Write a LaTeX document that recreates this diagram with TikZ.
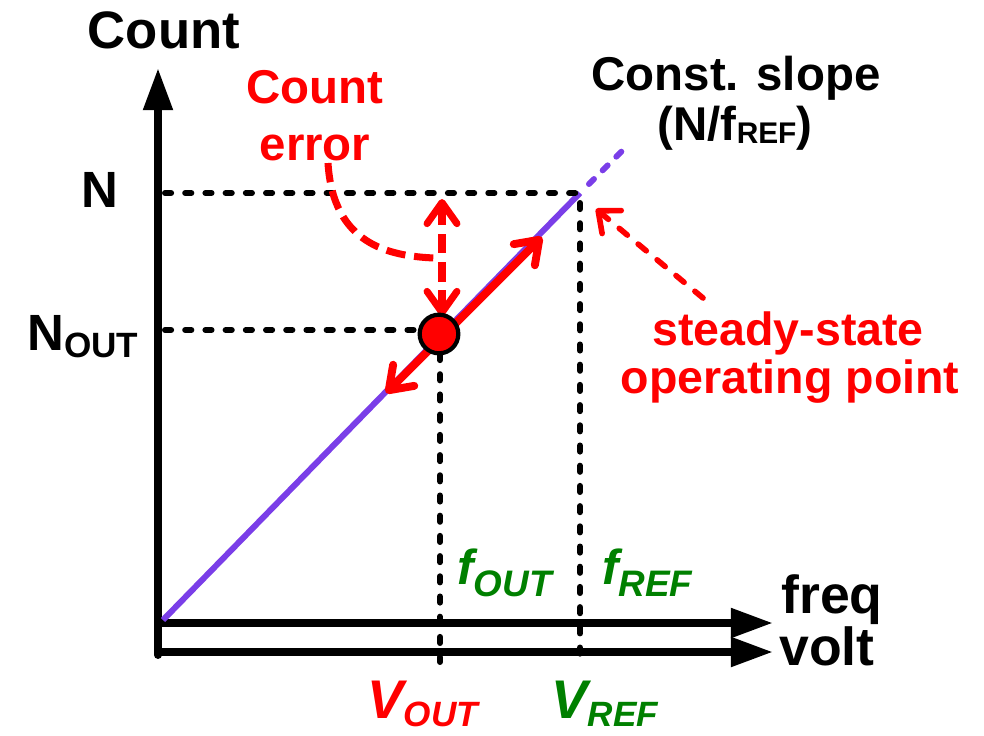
\documentclass[tikz,border=0pt]{standalone}
\usepackage{fontspec}
\setmainfont{Liberation Sans}
\usetikzlibrary{arrows.meta}
\definecolor{myred}{RGB}{255,0,0}
\definecolor{mygreen}{RGB}{0,128,0}
\definecolor{mypurple}{RGB}{122,62,232}
\newcommand\fsz[1]{\fontsize{#1}{#1}\selectfont}
\begin{document}
\begin{tikzpicture}[x=0.02cm,y=-0.02cm,
  axis/.style={line width=4.5pt,line cap=round,-{Triangle[length=24pt,width=16pt]}},
  purp/.style={mypurple,line width=3.4pt},
  bdash/.style={black,line width=3.4pt,line cap=round,dash pattern=on 3.5pt off 8pt},
  barb/.tip={Straight Barb[length=12pt,width=17pt,round]},
  sbarb/.tip={Straight Barb[length=10pt,width=17pt,round]},
  rarrow/.style={myred,line width=4.5pt,line cap=round},
  rdash/.style={myred,line width=4pt,dash pattern=on 11pt off 5pt},
  rdashs/.style={myred,line width=3.2pt,line cap=round,dash pattern=on 6pt off 8pt},
  dot/.style={circle,draw=black,fill=myred,line width=2.4pt,minimum size=22pt,inner sep=0pt},
  lbl/.style={inner sep=0pt,font=\bfseries}]
\useasboundingbox (0,0) rectangle (984,735);

% axes
\coordinate (ybot) at (158,655);
\coordinate (ytop) at (158,68);
\coordinate (vl) at (158,652);
\coordinate (vr) at (773,652);
\coordinate (fl) at (158,623);
\coordinate (fr) at (773,623);
\draw[axis] (ybot) -- (ytop);
\draw[axis] (vl) -- (vr);
\draw[axis] (fl) -- (fr);

% constant-slope line
\coordinate (p0) at (163,620);
\coordinate (pR) at (580,193);
\coordinate (pd1) at (589,184);
\coordinate (pd2) at (624,149);
\draw[purp] (p0) -- (pR);
\draw[purp,line cap=round,dash pattern=on 4pt off 7pt] (pd1) -- (pd2);

% black dashed guides
\coordinate (nL) at (165,193);
\coordinate (nR) at (578,193);
\coordinate (noL) at (165,330);
\coordinate (noR) at (420,330);
\coordinate (vo1) at (440,354);
\coordinate (vo2) at (440,662);
\coordinate (vr1) at (580,203);
\coordinate (vr2) at (580,662);
\draw[bdash] (nL) -- (nR);
\draw[bdash] (noL) -- (noR);
\draw[bdash] (vo1) -- (vo2);
\draw[bdash] (vr1) -- (vr2);

% red operating-point arrows
\coordinate (aLo) at (386,393);
\coordinate (aHi) at (542,237);
\draw[rarrow,barb-barb] (aLo) -- (aHi);

% count error arrow
\coordinate (eTop) at (442,199);
\coordinate (eBot) at (442,316);
\draw[rdash,barb-barb] (eTop) -- (eBot);
\coordinate (cS) at (328,163);
\coordinate (cE) at (434,258);
\draw[rdash] (cS) .. controls (333,245) and (390,256) .. (cE);

% steady-state arrow
\coordinate (sT) at (703,298);
\coordinate (sH) at (596,209);
\draw[rdashs,-sbarb] (sT) -- (sH);

\node[dot] (op) at (439,334) {};

% labels
\node[lbl,anchor=base] (tcount) at (164,48) {\fsz{30}Count};
\node[lbl,anchor=base] (tN) at (100,207) {\fsz{29}N};
\node[lbl,anchor=base west] (tNout) at (27,350) {\fsz{29}N\raisebox{-4pt}{\fsz{20}OUT}};
\node[lbl,anchor=base,myred] (tce1) at (315,103) {\fsz{27}Count};
\node[lbl,anchor=base,myred] (tce2) at (315,160) {\fsz{27}error};
\node[lbl,anchor=base] (tcs1) at (736,90) {\fsz{27}Const. slope};
\node[lbl,anchor=base] (tcs2) at (735,140) {\fsz{27}(N/f\raisebox{-2pt}{\fsz{17}REF})};
\node[lbl,anchor=base,myred] (tss1) at (788,345) {\fsz{26.5}steady-state};
\node[lbl,anchor=base,myred] (tss2) at (790,393) {\fsz{26.5}operating point};
\node[lbl,anchor=base west] (tfreq) at (781,613) {\fsz{30.5}freq};
\node[lbl,anchor=base west] (tvolt) at (779,665) {\fsz{30.5}volt};
\node[lbl,anchor=base west,mygreen] (tfout) at (457,584) {\fsz{28}\itshape f\raisebox{-7pt}{\fsz{21}OUT}};
\node[lbl,anchor=base west,mygreen] (tfref) at (602,584) {\fsz{28}\itshape f\raisebox{-7pt}{\fsz{21}REF}};
\node[lbl,anchor=base west,myred] (tvout) at (367,718) {\fsz{31}\itshape V\raisebox{-5pt}{\fsz{20}OUT}};
\node[lbl,anchor=base west,mygreen] (tvref) at (551,718) {\fsz{31}\itshape V\raisebox{-5pt}{\fsz{20}REF}};
\end{tikzpicture}
\end{document}
